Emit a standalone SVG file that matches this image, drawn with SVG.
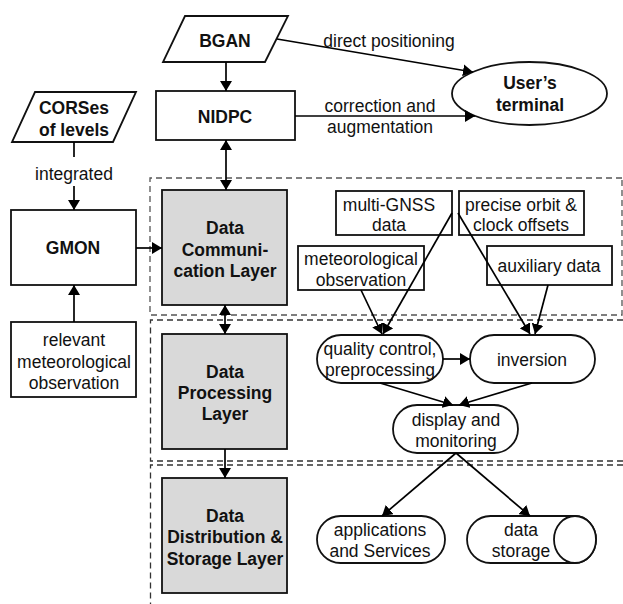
<svg xmlns="http://www.w3.org/2000/svg" width="623" height="604" viewBox="0 0 623 604">
<style>
.n{fill:#fff;stroke:#111;stroke-width:1.8}
.g{fill:#d9d9d9;stroke:#111;stroke-width:1.8}
.d{fill:none;stroke:#333;stroke-width:1.3;stroke-dasharray:6 4}
.c{fill:none;stroke:#000;stroke-width:1.7}
text{font-family:"Liberation Sans",Arial,sans-serif;font-size:17.5px;fill:#111;text-anchor:middle}
.b{font-weight:bold}
</style>
<defs>
<marker id="ah" viewBox="0 0 10 12" refX="10" refY="6" markerWidth="10" markerHeight="12" orient="auto-start-reverse" markerUnits="userSpaceOnUse">
<path d="M0,0 L10,6 L0,12 z" fill="#000"/>
</marker>
</defs>
<rect width="623" height="604" fill="#fff"/>
<g id="layers">
<path class="d" d="M622,178 L150,178 L150,315 L622,315 Z" style="stroke:#555"/>
<path class="d" d="M623,320 L150.5,320 L150.5,461 L623,461"/>
<path class="d" d="M623,465 L150.5,465 L150.5,604"/>
</g>
<g id="bgan">
<polygon class="n" points="185,16 288,16 265,62 163,62"/>
<text class="b" x="225" y="47">BGAN</text>
</g>
<g id="nidpc">
<rect class="n" x="156" y="91" width="139" height="49"/>
<text class="b" x="225" y="123">NIDPC</text>
</g>
<g id="user">
<ellipse class="n" cx="529.5" cy="93.5" rx="77.5" ry="31.5"/>
<text class="b" x="530" y="89">User’s</text>
<text class="b" x="530" y="111">terminal</text>
</g>
<g id="corses">
<polygon class="n" points="35,92 136,92 113,142 12,142"/>
<text class="b" x="74" y="114">CORSes</text>
<text class="b" x="74" y="136">of levels</text>
</g>
<g id="gmon">
<rect class="n" x="11" y="210" width="125" height="75"/>
<text class="b" x="73" y="254">GMON</text>
</g>
<g id="relevant">
<rect class="n" x="11" y="322" width="125" height="75"/>
<text x="74" y="346">relevant</text>
<text x="74" y="368">meteorological</text>
<text x="74" y="389">observation</text>
</g>
<g id="dcl">
<rect class="g" x="162" y="190" width="125" height="115"/>
<text class="b" x="225" y="234">Data</text>
<text class="b" x="225" y="256">Communi-</text>
<text class="b" x="225" y="277">cation Layer</text>
</g>
<g id="dpl">
<rect class="g" x="162" y="334" width="125" height="115"/>
<text class="b" x="225" y="378">Data</text>
<text class="b" x="225" y="399">Processing</text>
<text class="b" x="225" y="420">Layer</text>
</g>
<g id="ddsl">
<rect class="g" x="162" y="478" width="125" height="115"/>
<text class="b" x="225" y="522">Data</text>
<text class="b" x="225" y="543">Distribution &amp;</text>
<text class="b" x="225" y="565">Storage Layer</text>
</g>
<g id="multignss">
<rect class="n" x="336" y="191" width="116" height="44"/>
<text x="389" y="211">multi-GNSS</text>
<text x="389" y="231">data</text>
</g>
<g id="precise">
<rect class="n" x="459" y="191" width="125" height="44"/>
<text x="521" y="211">precise orbit &amp;</text>
<text x="521" y="231">clock offsets</text>
</g>
<g id="meteo">
<rect class="n" x="298" y="246" width="126" height="44"/>
<text x="361" y="265">meteorological</text>
<text x="361" y="286">observation</text>
</g>
<g id="aux">
<rect class="n" x="487" y="246" width="125" height="39"/>
<text x="549" y="272">auxiliary data</text>
</g>
<g id="qc">
<rect class="n" x="317" y="335" width="126" height="48" rx="24"/>
<text x="380" y="355">quality control,</text>
<text x="380" y="376">preprocessing</text>
</g>
<g id="inversion">
<rect class="n" x="470" y="335" width="125" height="48" rx="24"/>
<text x="532" y="366">inversion</text>
</g>
<g id="display">
<rect class="n" x="393" y="405" width="125" height="48" rx="24"/>
<text x="456" y="426">display and</text>
<text x="456" y="447">monitoring</text>
</g>
<g id="apps">
<rect class="n" x="317" y="516" width="128" height="47" rx="23.5"/>
<text x="380" y="536">applications</text>
<text x="380" y="557">and Services</text>
</g>
<g id="storage">
<path class="n" d="M575,516 L490.5,516 A23.5,23.5 0 0 0 490.5,563 L575,563 A21,23.5 0 0 0 575,516 Z"/>
<ellipse class="n" cx="575" cy="539.5" rx="21" ry="23.5"/>
<text x="521" y="536">data</text>
<text x="521" y="557">storage</text>
</g>
<g id="connectors">
<line class="c" x1="226" y1="62" x2="226" y2="91" marker-end="url(#ah)"/>
<line class="c" x1="226" y1="140" x2="226" y2="190" marker-start="url(#ah)" marker-end="url(#ah)"/>
<line class="c" x1="277" y1="39" x2="473" y2="72" marker-end="url(#ah)"/>
<line class="c" x1="295" y1="116" x2="475" y2="116" marker-end="url(#ah)"/>
<line class="c" x1="74" y1="142" x2="74" y2="157"/>
<line class="c" x1="74" y1="186" x2="74" y2="210" marker-end="url(#ah)"/>
<line class="c" x1="74" y1="322" x2="74" y2="285" marker-end="url(#ah)"/>
<line class="c" x1="136" y1="248" x2="162" y2="248" marker-end="url(#ah)"/>
<line class="c" x1="225" y1="305" x2="225" y2="334" marker-start="url(#ah)" marker-end="url(#ah)"/>
<line class="c" x1="225" y1="449" x2="225" y2="478" marker-end="url(#ah)"/>
<line class="c" x1="361" y1="290" x2="382" y2="334" marker-end="url(#ah)"/>
<line class="c" x1="452" y1="213" x2="383" y2="334" marker-end="url(#ah)"/>
<line class="c" x1="458" y1="213" x2="530" y2="334" marker-end="url(#ah)"/>
<line class="c" x1="548" y1="285" x2="535" y2="334" marker-end="url(#ah)"/>
<line class="c" x1="443" y1="359" x2="470" y2="359" marker-end="url(#ah)"/>
<line class="c" x1="380" y1="383" x2="453" y2="405" marker-end="url(#ah)"/>
<line class="c" x1="532" y1="383" x2="459" y2="405" marker-end="url(#ah)"/>
<line class="c" x1="456" y1="453" x2="382" y2="516" marker-end="url(#ah)"/>
<line class="c" x1="456" y1="453" x2="530" y2="516" marker-end="url(#ah)"/>
<text x="389" y="47">direct positioning</text>
<text x="380" y="112">correction and</text>
<text x="380" y="133">augmentation</text>
<text x="74" y="180">integrated</text>
</g>
</svg>
